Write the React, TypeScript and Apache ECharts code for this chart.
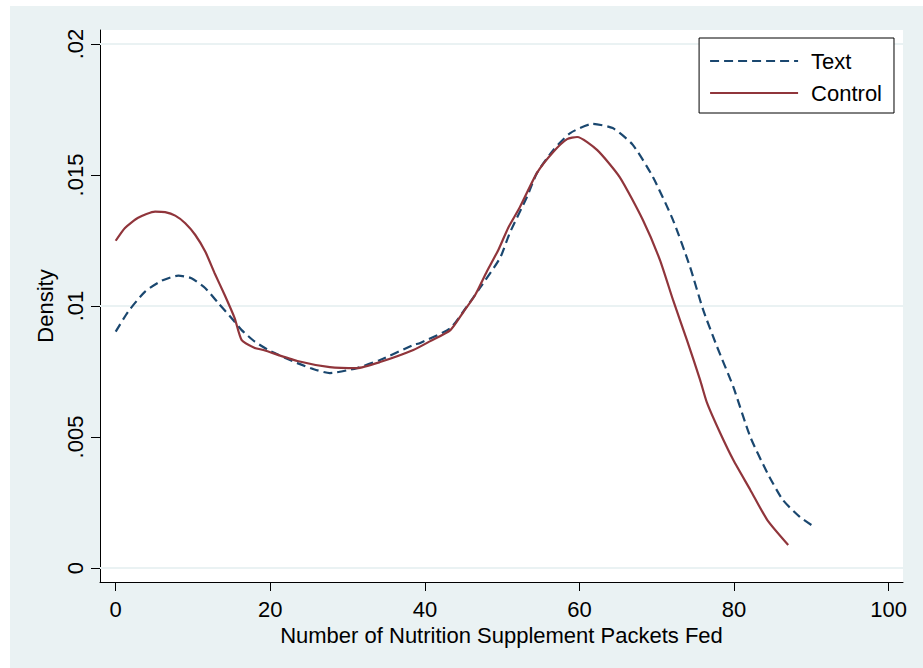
import React, { useEffect, useRef } from "react";
import * as echarts from "echarts";

const xTicks = [0, 20, 40, 60, 80, 100];
const yTicks = [0, 0.005, 0.01, 0.015, 0.02];

const textX = [0, 1.6, 3.8, 6.0, 8.1, 9.8, 11.6, 13.3, 15.0, 16.3, 18.0, 20.0, 23.5, 25.5, 27.7, 31.2, 34.2, 38.5, 39.4, 43.3, 45.4, 47.1, 49.7, 51.0, 53.2, 54.5, 56.6, 58.8, 61.7, 64.3, 66.9, 69.5, 72.1, 74.3, 76.0, 77.8, 79.9, 82.1, 84.3, 86.3, 88.5, 90.0];
const textY = [0.00902, 0.00978, 0.01055, 0.01097, 0.01116, 0.01106, 0.01068, 0.0101, 0.00953, 0.00908, 0.00864, 0.00828, 0.00782, 0.0076, 0.00744, 0.00763, 0.00794, 0.00851, 0.00859, 0.00916, 0.00997, 0.01068, 0.01182, 0.0128, 0.01416, 0.01508, 0.01595, 0.0166, 0.01695, 0.01679, 0.01615, 0.01492, 0.01328, 0.01149, 0.00985, 0.00844, 0.00691, 0.005, 0.00363, 0.0026, 0.00195, 0.00164];

const controlX = [0, 1.2, 2.9, 5.1, 6.4, 7.7, 9.0, 10.3, 11.6, 12.8, 14.1, 15.4, 16.3, 18.0, 19.1, 23.5, 27.7, 31.2, 34.2, 38.5, 40.7, 43.3, 45.0, 46.5, 48.0, 49.5, 50.8, 52.3, 54.5, 56.6, 58.4, 59.7, 62.3, 65.2, 68.2, 70.4, 72.1, 73.9, 75.6, 76.5, 78.2, 79.9, 82.1, 84.3, 87.0];
const controlY = [0.01249, 0.01298, 0.01337, 0.0136, 0.01358, 0.01345, 0.01316, 0.01271, 0.01207, 0.01125, 0.01042, 0.00953, 0.0087, 0.0084, 0.00832, 0.0079, 0.00767, 0.00763, 0.00786, 0.00832, 0.00866, 0.00908, 0.00978, 0.01042, 0.01131, 0.01214, 0.013, 0.01378, 0.01508, 0.01588, 0.01637, 0.01645, 0.01595, 0.01492, 0.01328, 0.01176, 0.01023, 0.0087, 0.00718, 0.0063, 0.00515, 0.00412, 0.00298, 0.00183, 0.00088];

const FONT = "'Liberation Sans', Arial, sans-serif";
const FS = 22;
const BG = "#EAF2F3";
const NAVY = "#1A476F";
const MAROON = "#90353B";

function fmtY(v: number) {
  if (v === 0) return "0";
  return String(+v.toFixed(4)).replace(/^0\./, ".");
}

export default function App() {
  const ref = useRef<HTMLDivElement>(null);
  useEffect(() => {
    if (!ref.current) return;
    const chart = echarts.init(ref.current, null, { renderer: "svg" });
    chart.setOption({
      animation: false,
      backgroundColor: "#ffffff",
      graphic: [
        { type: "rect", z: -10, shape: { x: 10, y: 6, width: 913, height: 662 }, style: { fill: BG } },
      ],
      textStyle: { fontFamily: FONT },
      grid: {
        left: 100, top: 30, right: 20, bottom: 86,
        show: true, backgroundColor: "#ffffff", borderWidth: 0,
      },
      legend: {
        right: 29, top: 38, orient: "vertical",
        backgroundColor: "#ffffff", borderColor: "#000", borderWidth: 1,
        padding: [12, 12, 9, 10], itemGap: 10, itemWidth: 88, itemHeight: 14,
        itemStyle: { opacity: 0 },
        textStyle: { fontSize: FS, color: "#000", fontFamily: FONT, padding: [0, 0, 0, 8] },
        data: ["Text", "Control"],
      },
      xAxis: {
        type: "value", min: -2.03, max: 101.85,
        name: "Number of Nutrition Supplement Packets Fed",
        nameLocation: "middle", nameGap: 40,
        nameTextStyle: { fontSize: FS, color: "#000", fontFamily: FONT },
        axisLine: { show: true, onZero: false, lineStyle: { color: "#000", width: 1 } },
        axisTick: { show: true, length: 9, customValues: xTicks, lineStyle: { color: "#000", width: 1 } },
        axisLabel: { customValues: xTicks, fontSize: FS, color: "#000", margin: 16, fontFamily: FONT },
        splitLine: { show: false },
      },
      yAxis: {
        type: "value", min: -0.000534, max: 0.020534,
        name: "Density", nameLocation: "middle", nameGap: 40,
        nameTextStyle: { fontSize: FS, color: "#000", fontFamily: FONT },
        axisLine: { show: true, onZero: false, lineStyle: { color: "#000", width: 1 } },
        axisTick: { show: true, length: 9, customValues: yTicks, lineStyle: { color: "#000", width: 1 } },
        axisLabel: { customValues: yTicks, fontSize: FS, color: "#000", margin: 14, rotate: 90, formatter: fmtY, fontFamily: FONT },
        splitLine: { show: false },
      },
      series: [
        {
          name: "Text", type: "line", symbol: "none", smooth: 0.2,
          data: textX.map((x, i) => [x, textY[i]]),
          lineStyle: { color: NAVY, width: 2.2, type: [9, 5] },
          itemStyle: { color: NAVY },
          z: 3,
          markLine: {
            silent: true, symbol: "none", animation: false,
            label: { show: false },
            lineStyle: { color: BG, width: 2, type: "solid" },
            data: yTicks.map((v) => ({ yAxis: v })),
            z: 1,
          },
        },
        {
          name: "Control", type: "line", symbol: "none", smooth: 0.2,
          data: controlX.map((x, i) => [x, controlY[i]]),
          lineStyle: { color: MAROON, width: 2.2, type: "solid" },
          itemStyle: { color: MAROON },
          z: 3,
        },
      ],
    });
    return () => chart.dispose();
  }, []);
  return <div ref={ref} style={{ position: "fixed", left: 0, top: 0, width: 923, height: 668 }} />;
}
